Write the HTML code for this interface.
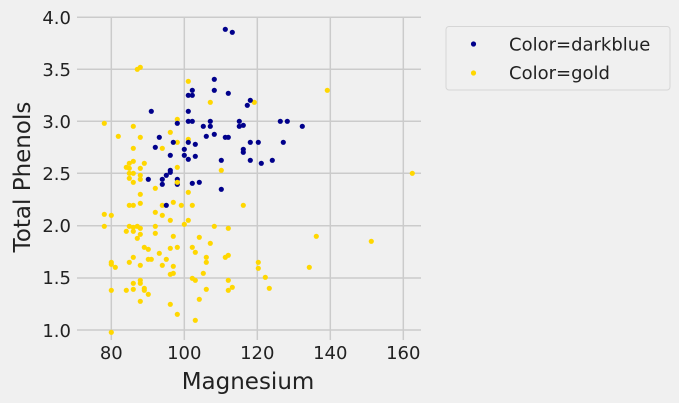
<!DOCTYPE html>
<html><head><meta charset="utf-8"><style>
html,body{margin:0;padding:0;background:#f0f0f0;}
svg{display:block;font-family:"DejaVu Sans","Liberation Sans",sans-serif;}
</style></head><body>
<svg width="679" height="403" viewBox="0 0 679 403">
<rect width="679" height="403" fill="#f0f0f0"/>
<g stroke="#cbcbcb" stroke-width="1.5">
<line x1="111.3" y1="17" x2="111.3" y2="340"/>
<line x1="184.3" y1="17" x2="184.3" y2="340"/>
<line x1="257.3" y1="17" x2="257.3" y2="340"/>
<line x1="330.3" y1="17" x2="330.3" y2="340"/>
<line x1="403.3" y1="17" x2="403.3" y2="340"/>
<line x1="77" y1="17.3" x2="421" y2="17.3"/>
<line x1="77" y1="69.3" x2="421" y2="69.3"/>
<line x1="77" y1="121.3" x2="421" y2="121.3"/>
<line x1="77" y1="173.3" x2="421" y2="173.3"/>
<line x1="77" y1="225.8" x2="421" y2="225.8"/>
<line x1="77" y1="278" x2="421" y2="278"/>
<line x1="77" y1="330" x2="421" y2="330"/>
</g>
<g fill="#ffd700">
<circle cx="137.3" cy="69.3" r="2.6"/><circle cx="140.3" cy="67.3" r="2.6"/><circle cx="188.3" cy="81.3" r="2.6"/><circle cx="210.3" cy="102.3" r="2.6"/><circle cx="254.3" cy="102.3" r="2.6"/><circle cx="104.3" cy="123.3" r="2.6"/><circle cx="177.3" cy="119.3" r="2.6"/><circle cx="133.3" cy="126.3" r="2.6"/><circle cx="118.3" cy="136.3" r="2.6"/><circle cx="140.3" cy="137.3" r="2.6"/><circle cx="170.3" cy="132.3" r="2.6"/><circle cx="188.3" cy="139.3" r="2.6"/><circle cx="177.3" cy="142.3" r="2.6"/><circle cx="133.3" cy="148.3" r="2.6"/><circle cx="162.3" cy="148.3" r="2.6"/><circle cx="129.3" cy="163.3" r="2.6"/><circle cx="133.3" cy="161.3" r="2.6"/><circle cx="144.3" cy="163.3" r="2.6"/><circle cx="126.3" cy="167.3" r="2.6"/><circle cx="129.3" cy="168.3" r="2.6"/><circle cx="140.3" cy="168.3" r="2.6"/><circle cx="177.3" cy="167.3" r="2.6"/><circle cx="221.3" cy="170.3" r="2.6"/><circle cx="133.3" cy="173.3" r="2.6"/><circle cx="140.3" cy="175.3" r="2.6"/><circle cx="129.3" cy="178.3" r="2.6"/><circle cx="140.3" cy="179.3" r="2.6"/><circle cx="133.3" cy="182.3" r="2.6"/><circle cx="129.3" cy="173.3" r="2.6"/><circle cx="177.3" cy="182.3" r="2.6"/><circle cx="155.3" cy="188.3" r="2.6"/><circle cx="188.3" cy="192.3" r="2.6"/><circle cx="140.3" cy="194.3" r="2.6"/><circle cx="129.3" cy="205.3" r="2.6"/><circle cx="133.3" cy="205.3" r="2.6"/><circle cx="140.3" cy="203.3" r="2.6"/><circle cx="162.3" cy="205.3" r="2.6"/><circle cx="173.3" cy="202.3" r="2.6"/><circle cx="181.3" cy="205.3" r="2.6"/><circle cx="192.3" cy="205.3" r="2.6"/><circle cx="243.3" cy="205.3" r="2.6"/><circle cx="104.3" cy="214.3" r="2.6"/><circle cx="111.3" cy="215.3" r="2.6"/><circle cx="155.3" cy="212.3" r="2.6"/><circle cx="162.3" cy="215.3" r="2.6"/><circle cx="170.3" cy="220.3" r="2.6"/><circle cx="188.3" cy="220.3" r="2.6"/><circle cx="184.3" cy="224.3" r="2.6"/><circle cx="104.3" cy="226.3" r="2.6"/><circle cx="129.3" cy="226.3" r="2.6"/><circle cx="133.3" cy="227.3" r="2.6"/><circle cx="137.3" cy="226.3" r="2.6"/><circle cx="140.3" cy="228.3" r="2.6"/><circle cx="126.3" cy="231.3" r="2.6"/><circle cx="133.3" cy="231.3" r="2.6"/><circle cx="140.3" cy="234.3" r="2.6"/><circle cx="155.3" cy="226.3" r="2.6"/><circle cx="155.3" cy="233.3" r="2.6"/><circle cx="137.3" cy="238.3" r="2.6"/><circle cx="173.3" cy="236.3" r="2.6"/><circle cx="214.3" cy="226.3" r="2.6"/><circle cx="228.3" cy="228.3" r="2.6"/><circle cx="199.3" cy="237.3" r="2.6"/><circle cx="210.3" cy="243.3" r="2.6"/><circle cx="144.3" cy="247.3" r="2.6"/><circle cx="148.3" cy="249.3" r="2.6"/><circle cx="159.3" cy="253.3" r="2.6"/><circle cx="170.3" cy="248.3" r="2.6"/><circle cx="177.3" cy="247.3" r="2.6"/><circle cx="192.3" cy="247.3" r="2.6"/><circle cx="195.3" cy="252.3" r="2.6"/><circle cx="206.3" cy="257.3" r="2.6"/><circle cx="206.3" cy="262.3" r="2.6"/><circle cx="225.3" cy="257.3" r="2.6"/><circle cx="228.3" cy="255.3" r="2.6"/><circle cx="111.3" cy="262.3" r="2.6"/><circle cx="111.3" cy="264.3" r="2.6"/><circle cx="115.3" cy="267.3" r="2.6"/><circle cx="129.3" cy="262.3" r="2.6"/><circle cx="133.3" cy="257.3" r="2.6"/><circle cx="140.3" cy="265.3" r="2.6"/><circle cx="148.3" cy="259.3" r="2.6"/><circle cx="151.3" cy="259.3" r="2.6"/><circle cx="166.3" cy="259.3" r="2.6"/><circle cx="162.3" cy="265.3" r="2.6"/><circle cx="173.3" cy="266.3" r="2.6"/><circle cx="173.3" cy="273.3" r="2.6"/><circle cx="170.3" cy="274.3" r="2.6"/><circle cx="203.3" cy="273.3" r="2.6"/><circle cx="192.3" cy="278.3" r="2.6"/><circle cx="195.3" cy="280.3" r="2.6"/><circle cx="228.3" cy="280.3" r="2.6"/><circle cx="133.3" cy="283.3" r="2.6"/><circle cx="140.3" cy="280.3" r="2.6"/><circle cx="140.3" cy="283.3" r="2.6"/><circle cx="111.3" cy="290.3" r="2.6"/><circle cx="126.3" cy="290.3" r="2.6"/><circle cx="133.3" cy="289.3" r="2.6"/><circle cx="144.3" cy="288.3" r="2.6"/><circle cx="144.3" cy="290.3" r="2.6"/><circle cx="148.3" cy="294.3" r="2.6"/><circle cx="206.3" cy="289.3" r="2.6"/><circle cx="228.3" cy="290.3" r="2.6"/><circle cx="232.3" cy="287.3" r="2.6"/><circle cx="140.3" cy="301.3" r="2.6"/><circle cx="199.3" cy="299.3" r="2.6"/><circle cx="170.3" cy="304.3" r="2.6"/><circle cx="177.3" cy="314.3" r="2.6"/><circle cx="195.3" cy="320.3" r="2.6"/><circle cx="111.3" cy="332.3" r="2.6"/>
<circle cx="327.3" cy="90.3" r="2.6"/><circle cx="412.3" cy="173.3" r="2.6"/><circle cx="316.3" cy="236.3" r="2.6"/><circle cx="371.3" cy="241.3" r="2.6"/><circle cx="258.3" cy="262.3" r="2.6"/><circle cx="258.3" cy="268.3" r="2.6"/><circle cx="265.3" cy="277.3" r="2.6"/><circle cx="269.3" cy="288.3" r="2.6"/><circle cx="309.3" cy="267.3" r="2.6"/>
</g>
<g fill="#00008b">
<circle cx="225.3" cy="29.3" r="2.6"/><circle cx="232.3" cy="32.3" r="2.6"/><circle cx="214.3" cy="79.3" r="2.6"/><circle cx="192.3" cy="90.3" r="2.6"/><circle cx="214.3" cy="90.3" r="2.6"/><circle cx="188.3" cy="95.3" r="2.6"/><circle cx="192.3" cy="95.3" r="2.6"/><circle cx="228.3" cy="93.3" r="2.6"/><circle cx="250.3" cy="100.3" r="2.6"/><circle cx="247.3" cy="105.3" r="2.6"/><circle cx="151.3" cy="111.3" r="2.6"/><circle cx="188.3" cy="111.3" r="2.6"/><circle cx="177.3" cy="123.3" r="2.6"/><circle cx="188.3" cy="121.3" r="2.6"/><circle cx="192.3" cy="121.3" r="2.6"/><circle cx="210.3" cy="121.3" r="2.6"/><circle cx="203.3" cy="126.3" r="2.6"/><circle cx="210.3" cy="126.3" r="2.6"/><circle cx="239.3" cy="121.3" r="2.6"/><circle cx="239.3" cy="126.3" r="2.6"/><circle cx="243.3" cy="125.3" r="2.6"/><circle cx="159.3" cy="137.3" r="2.6"/><circle cx="206.3" cy="136.3" r="2.6"/><circle cx="214.3" cy="134.3" r="2.6"/><circle cx="225.3" cy="137.3" r="2.6"/><circle cx="228.3" cy="137.3" r="2.6"/><circle cx="250.3" cy="142.3" r="2.6"/><circle cx="173.3" cy="142.3" r="2.6"/><circle cx="188.3" cy="142.3" r="2.6"/><circle cx="155.3" cy="147.3" r="2.6"/><circle cx="195.3" cy="144.3" r="2.6"/><circle cx="184.3" cy="149.3" r="2.6"/><circle cx="243.3" cy="149.3" r="2.6"/><circle cx="170.3" cy="155.3" r="2.6"/><circle cx="184.3" cy="155.3" r="2.6"/><circle cx="195.3" cy="156.3" r="2.6"/><circle cx="188.3" cy="159.3" r="2.6"/><circle cx="221.3" cy="160.3" r="2.6"/><circle cx="250.3" cy="160.3" r="2.6"/><circle cx="170.3" cy="170.3" r="2.6"/><circle cx="170.3" cy="172.3" r="2.6"/><circle cx="166.3" cy="175.3" r="2.6"/><circle cx="148.3" cy="179.3" r="2.6"/><circle cx="162.3" cy="179.3" r="2.6"/><circle cx="177.3" cy="179.3" r="2.6"/><circle cx="162.3" cy="184.3" r="2.6"/><circle cx="177.3" cy="184.3" r="2.6"/><circle cx="192.3" cy="183.3" r="2.6"/><circle cx="199.3" cy="182.3" r="2.6"/><circle cx="221.3" cy="189.3" r="2.6"/><circle cx="166.3" cy="205.3" r="2.6"/>
<circle cx="280.3" cy="121.3" r="2.6"/><circle cx="287.3" cy="121.3" r="2.6"/><circle cx="302.3" cy="126.3" r="2.6"/><circle cx="258.3" cy="142.3" r="2.6"/><circle cx="283.3" cy="142.3" r="2.6"/><circle cx="243.3" cy="152.3" r="2.6"/><circle cx="261.3" cy="163.3" r="2.6"/><circle cx="272.3" cy="160.3" r="2.6"/>
</g>
<circle cx="177.3" cy="182.3" r="2.6" fill="#ffd700"/>
<g font-size="18" fill="#222" text-anchor="end">
<text x="71" y="24">4.0</text><text x="71" y="76">3.5</text><text x="71" y="128">3.0</text><text x="71" y="180">2.5</text><text x="71" y="232">2.0</text><text x="71" y="284">1.5</text><text x="71" y="337">1.0</text>
</g>
<g font-size="18" fill="#222" text-anchor="middle">
<text x="111.3" y="359">80</text><text x="184.3" y="359">100</text><text x="257.3" y="359">120</text><text x="330.3" y="359">140</text><text x="403.3" y="359">160</text>
</g>
<text x="248" y="389" font-size="23" fill="#222" text-anchor="middle">Magnesium</text>
<text transform="translate(30,177) rotate(-90)" font-size="23" fill="#222" text-anchor="middle">Total Phenols</text>
<rect x="446" y="26.5" width="224" height="63.5" rx="3" fill="#f0f0f0" stroke="#d6d6d6" stroke-width="1"/>
<circle cx="473.5" cy="44" r="2.6" fill="#00008b"/>
<circle cx="473.5" cy="73" r="2.6" fill="#ffd700"/>
<text x="509" y="50.5" font-size="18" fill="#222">Color=darkblue</text>
<text x="509" y="79" font-size="18" fill="#222">Color=gold</text>
</svg>
</body></html>
